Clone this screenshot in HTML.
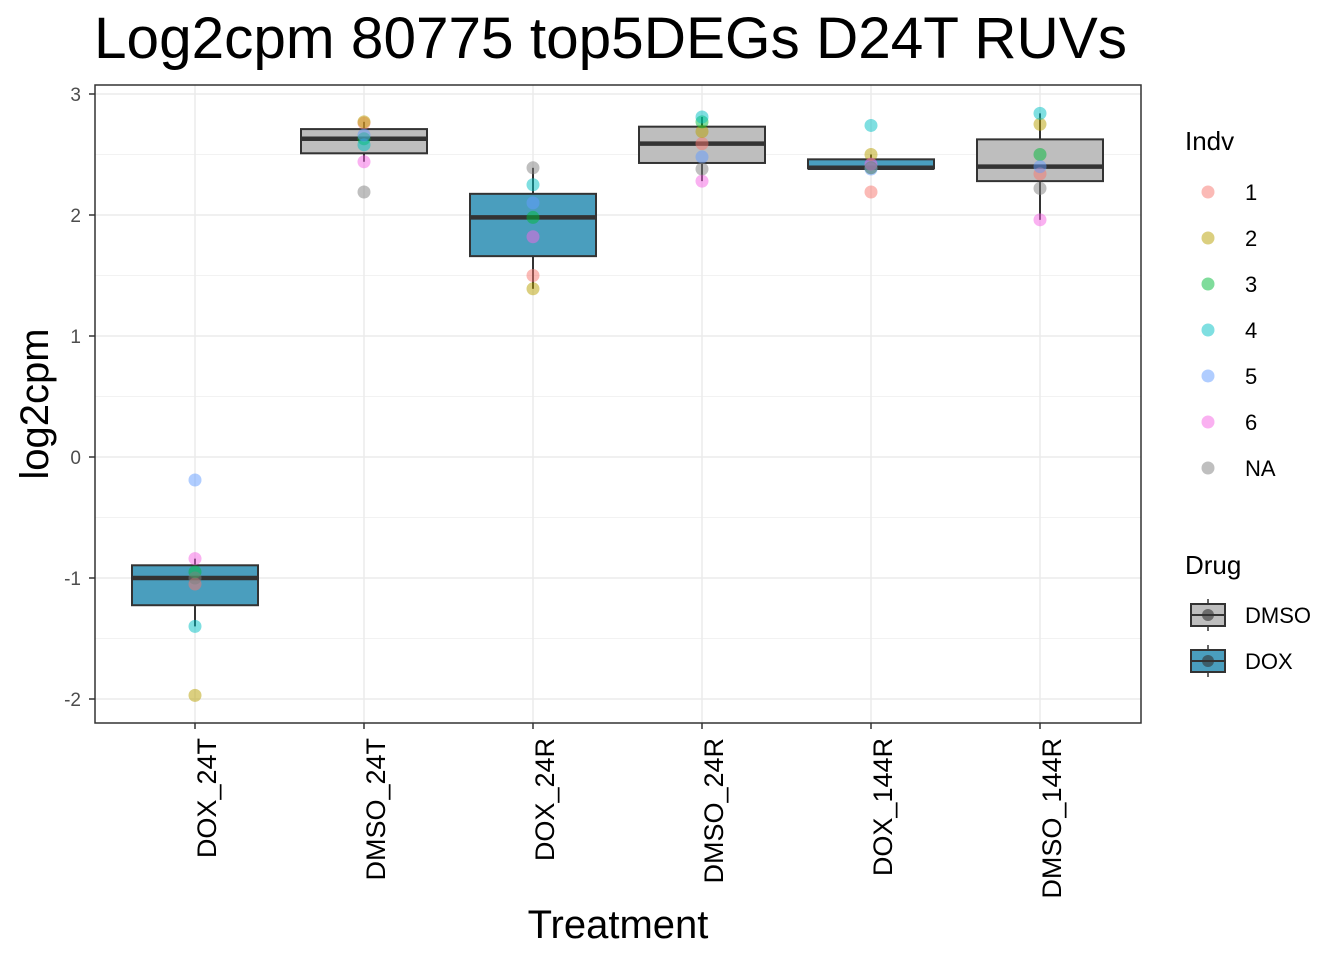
<!DOCTYPE html>
<html><head><meta charset="utf-8"><style>
body{margin:0;background:#fff}
svg{display:block;font-family:"Liberation Sans",Arial,sans-serif}
</style></head><body>
<svg id="chart" width="1344" height="960" viewBox="0 0 1344 960">
<text x="94" y="58" font-size="58.5" fill="#000">Log2cpm 80775 top5DEGs D24T RUVs</text>
<rect x="95" y="85" width="1046" height="638" fill="#fff"/>
<g id="grid"></g>
<g id="boxes"></g>
<g id="points"></g>
<rect x="95" y="85" width="1046" height="638" fill="none" stroke="#333" stroke-width="1.5"/>
<g id="axes"></g>
<text x="618" y="938" font-size="40" text-anchor="middle">Treatment</text>
<text transform="translate(48,404) rotate(-90)" font-size="40" text-anchor="middle">log2cpm</text>
<g id="legend"></g>
</svg>
<script>
const categories=["DOX_24T","DMSO_24T","DOX_24R","DMSO_24R","DOX_144R","DMSO_144R"];
const drugs=["DOX","DMSO","DOX","DMSO","DOX","DMSO"];
const indvLabels=["1","2","3","4","5","6","NA"];
// values per category, ordered by indv 1..6, NA
const vDOX_24T=[-1.05,-1.97,-0.95,-1.40,-0.19,-0.84,-1.00];
const vDMSO_24T=[2.76,2.77,2.63,2.58,2.66,2.44,2.19];
const vDOX_24R=[1.50,1.39,1.98,2.25,2.10,1.82,2.39];
const vDMSO_24R=[2.59,2.69,2.77,2.81,2.48,2.28,2.38];
const vDOX_144R=[2.19,2.50,2.39,2.74,2.38,2.42,2.39];
const vDMSO_144R=[2.34,2.75,2.50,2.84,2.40,1.96,2.22];
const yTicks=[-2,-1,0,1,2,3];
const series=[vDOX_24T,vDMSO_24T,vDOX_24R,vDMSO_24R,vDOX_144R,vDMSO_144R];
const indvColors=["#F8766D","#B79F00","#00BA38","#00BFC4","#619CFF","#F564E3","#7F7F7F"];
const drugFill={DMSO:"#BEBEBE",DOX:"#4A9EBE"};
const NS="http://www.w3.org/2000/svg";
const X0=95,X1=1141,Y0=85,Y1=723;
function ys(v){return 457-v*121;}
function xs(i){return 195+i*169;}
function mk(tag,attrs,parent){const e=document.createElementNS(NS,tag);for(const k in attrs)e.setAttribute(k,attrs[k]);parent.appendChild(e);return e;}
function q(s,p){const a=[...s].sort((x,y)=>x-y);const h=(a.length-1)*p;const l=Math.floor(h);return a[l]+(a[Math.min(l+1,a.length-1)]-a[l])*(h-l);}
const grid=document.getElementById('grid');
for(let i=0;i<yTicks.length;i++){
  const l=mk('line',{x1:X0,x2:X1,y1:ys(yTicks[i]),y2:ys(yTicks[i]),stroke:'#EBEBEB','stroke-width':1.5},grid);
  
  
  if(i<yTicks.length-1){const m=(yTicks[i]+yTicks[i+1])/2;
    const l2=mk('line',{x1:X0,x2:X1,y1:ys(m),y2:ys(m),stroke:'#F2F2F2','stroke-width':1},grid);
    
    }
}
for(let i=0;i<categories.length;i++){
  const l=mk('line',{x1:xs(i),x2:xs(i),y1:Y0,y2:Y1,stroke:'#EBEBEB','stroke-width':1.5},grid);
  
  
}
const boxes=document.getElementById('boxes');
const pts=document.getElementById('points');
const bw=63;
series.forEach((s,i)=>{
  const q1=q(s,0.25),med=q(s,0.5),q3=q(s,0.75),iqr=q3-q1;
  const inside=s.filter(v=>v>=q1-1.5*iqr&&v<=q3+1.5*iqr);
  const lo=Math.min(...inside),hi=Math.max(...inside);
  const g=mk('g',{},boxes);
  
  
  const x=xs(i);
  mk('line',{x1:x,x2:x,y1:ys(hi),y2:ys(q3),stroke:'#333','stroke-width':2},g);
  mk('line',{x1:x,x2:x,y1:ys(q1),y2:ys(lo),stroke:'#333','stroke-width':2},g);
  mk('rect',{x:x-bw,y:ys(q3),width:2*bw,height:ys(q1)-ys(q3),fill:drugFill[drugs[i]],stroke:'#333','stroke-width':2},g);
  mk('line',{x1:x-bw,x2:x+bw,y1:ys(med),y2:ys(med),stroke:'#333','stroke-width':4.5},g);
  s.forEach((v,j)=>{
    const c=mk('circle',{cx:x,cy:ys(v),r:6.5,fill:indvColors[j],'fill-opacity':0.5},pts);
    
    
  });
});
const ax=document.getElementById('axes');
yTicks.forEach(t=>{
  mk('line',{x1:89,x2:95,y1:ys(t),y2:ys(t),stroke:'#333','stroke-width':1.5},ax);
  const tx=mk('text',{x:81,y:ys(t)+7,'font-size':19,'text-anchor':'end',fill:'#4D4D4D'},ax);
  tx.textContent=t;
  
  
});
categories.forEach((c,i)=>{
  mk('line',{x1:xs(i),x2:xs(i),y1:723,y2:729,stroke:'#333','stroke-width':1.5},ax);
  const tx=mk('text',{transform:`translate(${xs(i)+21},738) rotate(-90)`,'font-size':27,'text-anchor':'end',fill:'#000'},ax);
  tx.textContent=c;
  
  
});
const lg=document.getElementById('legend');
const t1=mk('text',{x:1185,y:150,'font-size':26},lg);t1.textContent='Indv';


indvLabels.forEach((l,j)=>{
  const y=192+j*46;
  const g=mk('g',{},lg);
  
  
  mk('circle',{cx:1208,cy:y,r:6.5,fill:indvColors[j],'fill-opacity':0.5},g);
  const tx=mk('text',{x:1245,y:y+8,'font-size':22},g);tx.textContent=l;
});
const t2=mk('text',{x:1185,y:574,'font-size':26},lg);t2.textContent='Drug';


["DMSO","DOX"].forEach((d,j)=>{
  const y=615+j*46;
  const g=mk('g',{},lg);
  
  
  mk('line',{x1:1208,x2:1208,y1:y-16,y2:y+16,stroke:'#333','stroke-width':1.5},g);
  mk('rect',{x:1191,y:y-11,width:34,height:22,fill:drugFill[d],stroke:'#333','stroke-width':2},g);
  mk('line',{x1:1191,x2:1225,y1:y,y2:y,stroke:'#333','stroke-width':2},g);
  mk('circle',{cx:1208,cy:y,r:6,fill:'#333','fill-opacity':0.6},g);
  const tx=mk('text',{x:1245,y:y+8,'font-size':22},g);tx.textContent=d;
});
</script>
</body></html>
